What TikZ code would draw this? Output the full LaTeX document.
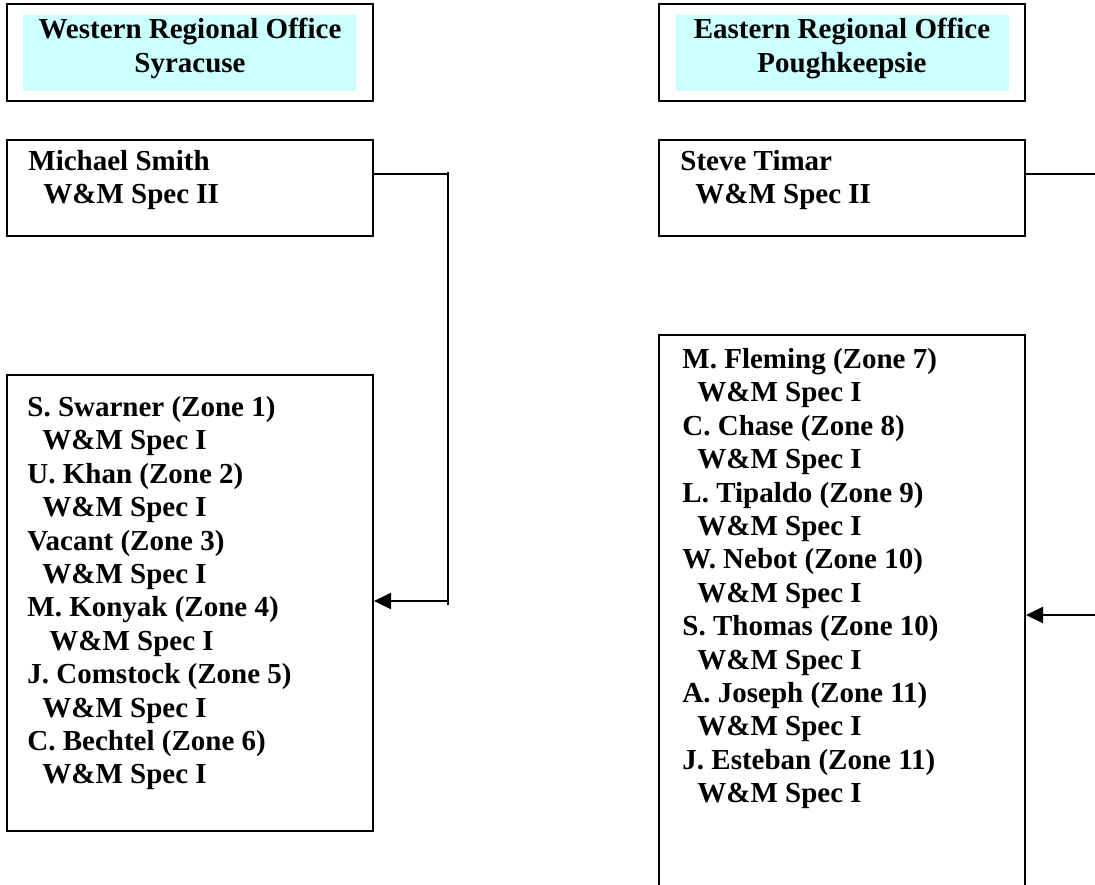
\documentclass[tikz,border=0pt]{standalone}
\usepackage{fontspec}
\setmainfont{Liberation Serif}
\usetikzlibrary{arrows.meta}
\definecolor{headcyan}{HTML}{CCFFFF}
\tikzset{
  frame/.style={draw, line width=1pt, minimum width=183pt, inner sep=0pt},
  headfill/.style={fill=headcyan, minimum width=166.5pt, minimum height=38pt, inner sep=0pt},
  names/.style={font=\fontsize{14.5pt}{16.7pt}\selectfont\bfseries, inner sep=0pt, align=left, anchor=north west},
  link/.style={line width=1pt},
  feed/.style={link, -{Triangle[length=8.5pt,width=8pt]}}
}
\newcommand{\rank}[1]{\hspace*{7.5pt}W\&M Spec #1}

\begin{document}
\begin{tikzpicture}[x=0.5pt, y=-0.5pt]
  \useasboundingbox (0,0) rectangle (1095,884);
  \clip (0,0) rectangle (1095,884);
  \fill[white] (0,0) rectangle (1095,884);

  % Western office
  \node[frame, minimum height=48.5pt] (whead) at (190,52.5) {};
  \node[headfill] (wfill) at (189.5,53) {};
  \node[names, align=center, anchor=north] (wtitle) at (190,18) {Western Regional Office\\Syracuse};

  \node[frame, minimum height=48pt] (wsup) at (190,188) {};
  \node[names] (wsupname) at (28,150) {Michael Smith\\\rank{II}};

  \node[frame, minimum height=228pt] (wstaff) at (190,603) {};
  \node[names] (wstaffnames) at (27,396) {
    S. Swarner (Zone 1)\\\rank{I}\\
    U. Khan (Zone 2)\\\rank{I}\\
    Vacant (Zone 3)\\\rank{I}\\
    M. Konyak (Zone 4)\\\hspace*{3.5pt}\rank{I}\\
    J. Comstock (Zone 5)\\\rank{I}\\
    C. Bechtel (Zone 6)\\\rank{I}};

  % Eastern office
  \node[frame, minimum height=48.5pt] (ehead) at (842,52.5) {};
  \node[headfill] (efill) at (842.5,53) {};
  \node[names, align=center, anchor=north] (etitle) at (842,18) {Eastern Regional Office\\Poughkeepsie};

  \node[frame, minimum height=48pt] (esup) at (842,188) {};
  \node[names] (esupname) at (680,150) {Steve Timar\\\rank{II}};

  \node[frame, minimum height=285pt] (estaff) at (842,620) {};
  \node[names] (estaffnames) at (682,348) {
    M. Fleming (Zone 7)\\\rank{I}\\
    C. Chase (Zone 8)\\\rank{I}\\
    L. Tipaldo (Zone 9)\\\rank{I}\\
    W. Nebot (Zone 10)\\\rank{I}\\
    S. Thomas (Zone 10)\\\rank{I}\\
    A. Joseph (Zone 11)\\\rank{I}\\
    J. Esteban (Zone 11)\\\rank{I}};

  % reporting lines
  \coordinate (wcorner) at (448,174);
  \coordinate (wtop) at (448,172);
  \coordinate (wlow) at (448,605);
  \coordinate (wtap) at (448,601);
  \draw[link] (wsup.east |- wcorner) -- (wcorner);
  \draw[link] (wtop) -- (wlow);
  \draw[feed] (wtap) -- (wstaff.east |- wtap);

  \coordinate (ecorner) at (1100,174);
  \coordinate (etap) at (1100,615);
  \draw[link] (esup.east |- ecorner) -- (ecorner);
  \draw[feed] (etap) -- (estaff.east |- etap);
\end{tikzpicture}
\end{document}
